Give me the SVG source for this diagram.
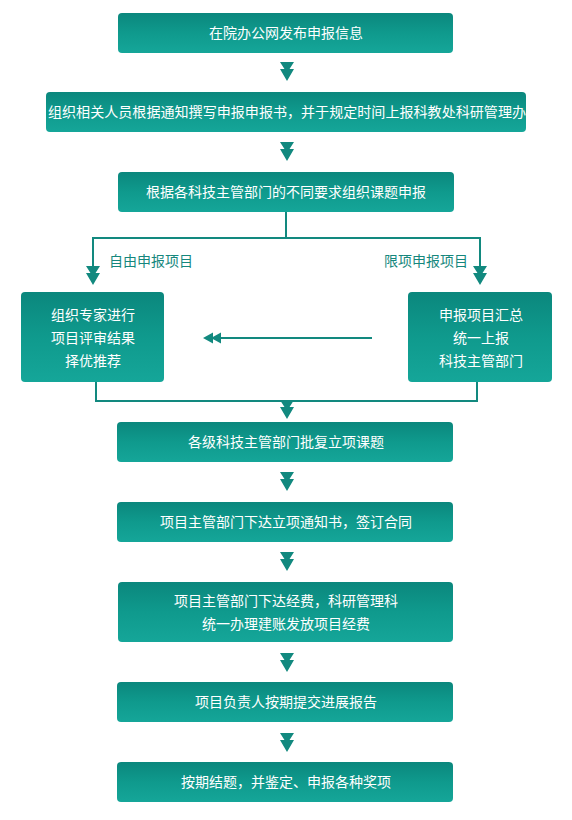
<svg xmlns="http://www.w3.org/2000/svg" width="572" height="820" viewBox="0 0 572 820">
<style>
.box{fill:url(#g);}
.t{font-family:"Noto Sans CJK SC","Liberation Sans",sans-serif;font-size:14px;fill:#ffffff;text-anchor:middle;}
.lab{font-family:"Noto Sans CJK SC","Liberation Sans",sans-serif;font-size:14px;fill:#15877d;}
.ln{stroke:#12897f;stroke-width:2;fill:none;}
.ah{fill:#12897f;}
</style>
<defs>
<linearGradient id="g" x1="0" y1="0" x2="0" y2="1">
<stop offset="0" stop-color="#0b877d"/>
<stop offset="0.5" stop-color="#0f9a8d"/>
<stop offset="1" stop-color="#15a699"/>
</linearGradient>
<path id="dd" d="M-7,0 H7 L0,11 Z M-7,7 H7 L0,19 Z"/>
</defs>
<rect width="572" height="820" fill="#ffffff"/>
<g id="connectors">
<use href="#dd" class="ah" x="287" y="62"/>
<use href="#dd" class="ah" x="287" y="142"/>
<polyline class="ln" points="286,212 286,238"/>
<polyline class="ln" points="93,266 93,238 480,238 480,266"/>
<use href="#dd" class="ah" x="93" y="266"/>
<use href="#dd" class="ah" x="480" y="266"/>
<line class="ln" x1="372" y1="338" x2="214" y2="338"/>
<path class="ah" d="M203,338 L213,332.5 V343.5 Z M211,338 L221,332.5 V343.5 Z"/>
<polyline class="ln" points="96,382 96,401 477,401 477,382"/>
<use href="#dd" class="ah" x="287" y="400"/>
<use href="#dd" class="ah" x="287" y="472"/>
<use href="#dd" class="ah" x="287" y="552"/>
<use href="#dd" class="ah" x="287" y="653"/>
<use href="#dd" class="ah" x="287" y="733"/>
</g>
<g id="n1"><rect class="box" x="118" y="13" width="335" height="40" rx="4"/><text class="t" x="286" y="38">在院办公网发布申报信息</text></g>
<g id="n2"><rect class="box" x="46" y="92" width="480" height="40" rx="4"/><text class="t" x="287" y="117" textLength="478" lengthAdjust="spacingAndGlyphs">组织相关人员根据通知撰写申报申报书，并于规定时间上报科教处科研管理办</text></g>
<g id="n3"><rect class="box" x="118" y="172" width="336" height="40" rx="4"/><text class="t" x="286" y="197">根据各科技主管部门的不同要求组织课题申报</text></g>
<g id="lbl1"><text class="lab" x="109" y="266">自由申报项目</text></g>
<g id="lbl2"><text class="lab" x="384" y="266">限项申报项目</text></g>
<g id="n4"><rect class="box" x="21" y="292" width="143" height="90" rx="4"/><text class="t" x="93" y="320">组织专家进行</text><text class="t" x="93" y="343">项目评审结果</text><text class="t" x="93" y="366">择优推荐</text></g>
<g id="n5"><rect class="box" x="408" y="292" width="144" height="90" rx="4"/><text class="t" x="481" y="320">申报项目汇总</text><text class="t" x="481" y="343">统一上报</text><text class="t" x="481" y="366">科技主管部门</text></g>
<g id="n6"><rect class="box" x="117" y="422" width="336" height="40" rx="4"/><text class="t" x="286" y="447">各级科技主管部门批复立项课题</text></g>
<g id="n7"><rect class="box" x="117" y="502" width="336" height="40" rx="4"/><text class="t" x="286" y="527">项目主管部门下达立项通知书，签订合同</text></g>
<g id="n8"><rect class="box" x="118" y="582" width="335" height="60" rx="4"/><text class="t" x="286" y="606">项目主管部门下达经费，科研管理科</text><text class="t" x="286" y="629">统一办理建账发放项目经费</text></g>
<g id="n9"><rect class="box" x="117" y="682" width="336" height="40" rx="4"/><text class="t" x="286" y="707">项目负责人按期提交进展报告</text></g>
<g id="n10"><rect class="box" x="117" y="762" width="336" height="40" rx="4"/><text class="t" x="286" y="787">按期结题，并鉴定、申报各种奖项</text></g>
</svg>
